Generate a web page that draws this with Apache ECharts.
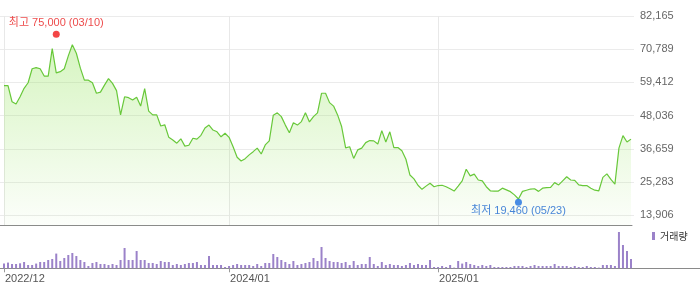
<!DOCTYPE html>
<html><head><meta charset="utf-8">
<script src="https://cdn.jsdelivr.net/npm/echarts@6/dist/echarts.min.js"></script>
<style>html,body{margin:0;padding:0;background:#fff}#c{width:700px;height:289px}</style>
</head><body><div id="c"></div>
<script>
// ---- data ----
const startDate = '2022-12-09'; // first weekly point (weekly closes)
const prices = [
58300,58300,52800,52000,54500,57400,59300,64100,64500,64100,
61600,61600,71000,62700,63100,64100,68500,72300,69400,64300,
60200,60200,59300,55700,56100,58500,60700,59100,56600,48300,
54500,54200,53400,54300,51300,57300,49600,48300,48300,44500,
44900,40600,39700,38600,40100,37600,37900,40300,40000,41300,
43800,44800,43100,42500,40800,42000,40600,37400,33800,32500,
33300,34600,35700,36900,34900,38000,39400,48200,49000,47700,
44800,42200,45600,44800,46000,49000,45900,47700,49000,55700,
55700,52500,51300,48300,44300,37000,37400,33400,36300,36900,
38800,39500,39400,38300,42900,39000,42500,37100,37100,36000,
33100,27700,26400,24200,22800,23900,24900,23700,24100,24200,
23700,23000,22200,23900,25700,29700,27400,28000,26000,25700,
23700,22300,22200,22200,23200,22600,22000,20900,19500,22100,
22500,22900,23000,22100,23200,23400,23500,25100,24300,25700,
27100,26000,25900,24300,24100,24100,23200,22500,22300,26900,
28100,26200,24600,36900,41200,39000,40000
];
// weekly volume (thousand shares)
const volumes = [
118,143,108,108,125,158,83,83,118,158,
158,208,233,368,183,258,333,383,308,208,
158,58,133,158,108,108,83,108,83,208,
508,208,208,433,208,208,133,133,108,183,
158,158,83,108,83,108,133,133,158,83,
83,308,83,83,83,33,58,83,108,83,
83,83,58,108,58,133,133,358,283,208,
158,108,183,83,108,133,158,258,183,533,
258,183,158,158,133,158,83,183,83,108,
108,283,108,58,158,83,108,83,83,58,
83,133,83,108,83,83,208,33,33,58,
33,83,18,183,118,158,108,83,58,83,
58,83,33,33,33,33,33,58,58,58,
33,58,83,58,58,58,58,108,58,58,
58,33,58,33,33,58,33,33,18,83,
83,83,58,908,583,433,233
];
const xTickLabels = ['2022/12', '2024/01', '2025/01'];
const yTickLabels = ['13,906','25,283','36,659','48,036','59,412','70,789','82,165'];
const priceMin = 10413, priceMax = 82165;
const volMax = 1000;
const highIdx = 13, highVal = 75000, highText = '최고 75,000 (03/10)';
const lowIdx = 128, lowVal = 19460, lowText = '최저 19,460 (05/23)';
const volName = '거래량';

// weekly date categories
const dates = [];
{
  const d0 = new Date(startDate + 'T00:00:00Z');
  for (let i = 0; i < prices.length; i++) {
    const d = new Date(d0.getTime() + i * 7 * 86400000);
    const m = d.getUTCMonth() + 1;
    dates.push(d.getUTCFullYear() + '/' + (m < 10 ? '0' + m : m));
  }
}
const labelIdx = xTickLabels.map(l => dates.indexOf(l));
const isLabel = (i) => labelIdx.indexOf(i) >= 0;

const font = 'Liberation Sans, Arial, Noto Sans CJK KR, sans-serif';
const chart = echarts.init(document.getElementById('c'), null, {renderer: 'canvas'});
chart.setOption({
  animation: false,
  backgroundColor: '#fff',
  textStyle: {fontFamily: font},
  legend: {
    data: [volName], left: 652, top: 231, icon: 'rect', itemWidth: 3, itemHeight: 8,
    textStyle: {fontSize: 10, color: '#333', fontFamily: 'Noto Sans CJK KR, sans-serif'},
    padding: 0, selectedMode: false
  },
  grid: [
    {left: 4, right: 69, top: 16, height: 209.5},      // 0 price data
    {left: 0, right: 66, top: 16, height: 199.3},      // 1 price labels/gridlines
    {left: 0, right: 68, top: 16, height: 209.5},      // 2 price frame bottom line
    {left: 4, right: 69, top: 228.3, height: 40},      // 3 volume
    {left: 0, right: 0, top: 228.3, height: 40}        // 4 volume baseline
  ],
  xAxis: [
    {gridIndex: 0, type: 'category', data: dates, boundaryGap: false,
     axisLine: {show: false}, axisTick: {show: false}, axisLabel: {show: false},
     splitLine: {show: true, interval: (i) => isLabel(i), lineStyle: {color: '#e8e8e8', width: 1}}},
    {gridIndex: 1, type: 'value', min: 0, max: 1, show: false},
    {gridIndex: 2, type: 'value', min: 0, max: 1, axisLabel: {show: false}, axisTick: {show: false},
     splitLine: {show: false}, axisLine: {show: true, lineStyle: {color: '#8a8a8a', width: 1}}},
    {gridIndex: 3, type: 'category', data: dates, boundaryGap: false,
     axisLine: {show: false},
     axisTick: {show: true, interval: (i) => isLabel(i), length: 4, lineStyle: {color: '#999'}},
     axisLabel: {show: true, interval: (i) => isLabel(i), align: 'left', margin: 5,
                 showMinLabel: true, showMaxLabel: true,
                 padding: [0, 0, 0, 1], fontSize: 11, color: '#555', fontFamily: font},
     splitLine: {show: false}},
    {gridIndex: 4, type: 'value', min: 0, max: 1, axisLabel: {show: false}, axisTick: {show: false},
     splitLine: {show: false}, axisLine: {show: true, lineStyle: {color: '#8a8a8a', width: 1}}}
  ],
  yAxis: [
    {gridIndex: 0, type: 'value', min: priceMin, max: priceMax, show: false},
    {gridIndex: 1, type: 'value', position: 'right', min: 0, max: yTickLabels.length - 1, interval: 1,
     axisLine: {show: false}, axisTick: {show: false},
     axisLabel: {margin: 6, fontSize: 11, color: '#666', fontFamily: font,
                 formatter: (v) => yTickLabels[v] || ''},
     splitLine: {show: true, lineStyle: {color: '#ebebeb', width: 1}}},
    {gridIndex: 2, type: 'value', min: 0, max: 1, show: false},
    {gridIndex: 3, type: 'value', min: 0, max: volMax, show: false},
    {gridIndex: 4, type: 'value', min: 0, max: 1, show: false}
  ],
  series: [
    {type: 'line', name: 'price', xAxisIndex: 0, yAxisIndex: 0, data: prices,
     showSymbol: false, symbol: 'none', smooth: false,
     lineStyle: {color: '#68c83a', width: 1.2},
     areaStyle: {origin: 'start', color: new echarts.graphic.LinearGradient(0, 0, 0, 1, [
       {offset: 0, color: 'rgba(150,228,95,0.55)'},
       {offset: 1, color: 'rgba(150,228,95,0.04)'}])},
     z: 3},
    {type: 'scatter', name: 'high', xAxisIndex: 0, yAxisIndex: 0,
     data: [[highIdx, highVal]], symbolSize: 7, symbolOffset: [0, -2.6],
     itemStyle: {color: '#f01818'},
     label: {show: true, position: 'top', distance: 2, formatter: highText,
             color: '#e81c1c', fontSize: 11, fontFamily: 'Liberation Sans, Noto Sans CJK KR, sans-serif'},
     z: 5},
    {type: 'scatter', name: 'low', xAxisIndex: 0, yAxisIndex: 0,
     data: [[lowIdx, lowVal]], symbolSize: 7, symbolOffset: [0, 3.2],
     itemStyle: {color: '#1c6fe0'},
     label: {show: true, position: 'bottom', distance: 0, formatter: lowText,
             color: '#1a66d0', fontSize: 11, fontFamily: 'Liberation Sans, Noto Sans CJK KR, sans-serif'},
     z: 5},
    {type: 'bar', name: volName, xAxisIndex: 3, yAxisIndex: 3, data: volumes,
     barWidth: 2, itemStyle: {color: '#9b82c9'}}
  ]
});
</script></body></html>
